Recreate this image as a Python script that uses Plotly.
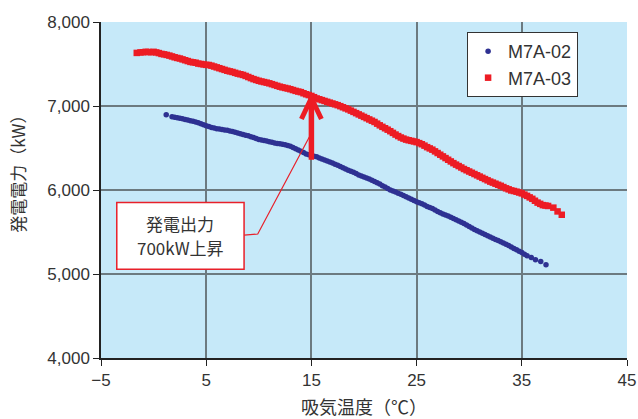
import plotly.graph_objects as go

# M7A-03 (red squares)
red_t = [-1.6, -1.25, -1.0, -0.75, -0.5, -0.25, 0.0, 0.25, 0.5, 0.75, 1.0, 1.25, 1.5, 1.75, 2.0, 2.25, 2.5, 2.75,
         3.0, 3.25, 3.5, 3.75, 4.0, 4.25, 4.5, 4.75, 5.0, 5.25, 5.5, 5.75, 6.0, 6.25, 6.5, 6.75, 7.0, 7.25, 7.5,
         7.75, 8.0, 8.25, 8.5, 8.75, 9.0, 9.25, 9.5, 9.75, 10.0, 10.25, 10.5, 10.75, 11.0, 11.25, 11.5, 11.75,
         12.0, 12.25, 12.5, 12.75, 13.0, 13.25, 13.5, 13.75, 14.0, 14.25, 14.5, 14.75, 15.0, 15.25, 15.5, 15.75,
         16.0, 16.25, 16.5, 16.75, 17.0, 17.25, 17.5, 17.75, 18.0, 18.25, 18.5, 18.75, 19.0, 19.25, 19.5, 19.75,
         20.0, 20.25, 20.5, 20.75, 21.0, 21.25, 21.5, 21.75, 22.0, 22.25, 22.5, 22.75, 23.0, 23.25, 23.5, 23.75,
         24.0, 24.25, 24.5, 24.75, 25.0, 25.25, 25.5, 25.75, 26.0, 26.25, 26.5, 26.75, 27.0, 27.25, 27.5, 27.75,
         28.0, 28.25, 28.5, 28.75, 29.0, 29.25, 29.5, 29.75, 30.0, 30.25, 30.5, 30.75, 31.0, 31.25, 31.5, 31.75,
         32.0, 32.25, 32.5, 32.75, 33.0, 33.25, 33.5, 33.75, 34.0, 34.25, 34.5, 34.75, 35.0, 35.25, 35.5, 35.75,
         36.0, 36.25, 36.5, 36.75, 37.0, 37.25, 37.5, 38.0, 38.4, 38.8]
red_kw = [7632, 7638, 7640, 7645, 7643, 7640, 7645, 7638, 7630, 7620, 7615, 7608, 7600, 7590, 7580, 7572, 7565,
          7555, 7545, 7535, 7525, 7520, 7515, 7505, 7500, 7495, 7490, 7488, 7480, 7470, 7460, 7450, 7440, 7430,
          7420, 7412, 7405, 7395, 7385, 7378, 7370, 7358, 7345, 7332, 7320, 7310, 7300, 7292, 7285, 7278, 7270,
          7260, 7250, 7240, 7230, 7222, 7215, 7208, 7200, 7190, 7180, 7172, 7165, 7152, 7140, 7130, 7120, 7105,
          7090, 7080, 7070, 7060, 7050, 7040, 7030, 7020, 7010, 6998, 6985, 6972, 6960, 6945, 6930, 6915, 6900,
          6885, 6870, 6855, 6840, 6825, 6810, 6790, 6770, 6752, 6735, 6718, 6700, 6680, 6660, 6642, 6625, 6612,
          6600, 6592, 6585, 6578, 6570, 6558, 6545, 6528, 6510, 6495, 6480, 6460, 6440, 6420, 6400, 6380, 6360,
          6340, 6320, 6302, 6285, 6268, 6250, 6235, 6220, 6205, 6190, 6175, 6160, 6145, 6130, 6115, 6100, 6088,
          6075, 6062, 6050, 6035, 6020, 6008, 5995, 5988, 5980, 5970, 5960, 5945, 5930, 5912, 5895, 5872, 5850,
          5835, 5820, 5815, 5810, 5790, 5745, 5705]

# M7A-02 (blue dots)
blue_t = [1.2, 1.75, 2.0, 2.25, 2.5, 2.75, 3.0, 3.25, 3.5, 3.75, 4.0, 4.25, 4.5, 4.75, 5.0, 5.25, 5.5, 5.75, 6.0,
          6.25, 6.5, 6.75, 7.0, 7.25, 7.5, 7.75, 8.0, 8.25, 8.5, 8.75, 9.0, 9.25, 9.5, 9.75, 10.0, 10.25, 10.5,
          10.75, 11.0, 11.25, 11.5, 11.75, 12.0, 12.25, 12.5, 12.75, 13.0, 13.25, 13.5, 13.75, 14.0, 14.25, 14.5,
          14.75, 15.0, 15.25, 15.5, 15.75, 16.0, 16.25, 16.5, 16.75, 17.0, 17.25, 17.5, 17.75, 18.0, 18.25, 18.5,
          18.75, 19.0, 19.25, 19.5, 19.75, 20.0, 20.25, 20.5, 20.75, 21.0, 21.25, 21.5, 21.75, 22.0, 22.25, 22.5,
          22.75, 23.0, 23.25, 23.5, 23.75, 24.0, 24.25, 24.5, 24.75, 25.0, 25.25, 25.5, 25.75, 26.0, 26.25, 26.5,
          26.75, 27.0, 27.25, 27.5, 27.75, 28.0, 28.25, 28.5, 28.75, 29.0, 29.25, 29.5, 29.75, 30.0, 30.25, 30.5,
          30.75, 31.0, 31.25, 31.5, 31.75, 32.0, 32.25, 32.5, 32.75, 33.0, 33.25, 33.5, 33.75, 34.0, 34.25, 34.5,
          34.75, 35.0, 35.25, 35.5, 35.9, 36.3, 36.8, 37.3]
blue_kw = [6895, 6872, 6866, 6860, 6855, 6848, 6840, 6832, 6825, 6818, 6810, 6800, 6790, 6778, 6765, 6755, 6745,
           6738, 6730, 6725, 6720, 6715, 6710, 6702, 6695, 6688, 6680, 6670, 6660, 6652, 6645, 6635, 6625, 6612,
           6600, 6595, 6590, 6582, 6575, 6568, 6560, 6555, 6550, 6545, 6540, 6530, 6520, 6505, 6490, 6475, 6460,
           6445, 6430, 6420, 6410, 6402, 6395, 6382, 6370, 6358, 6345, 6332, 6320, 6308, 6295, 6280, 6265, 6250,
           6235, 6222, 6210, 6195, 6180, 6168, 6155, 6142, 6130, 6115, 6100, 6085, 6070, 6052, 6035, 6018, 6000,
           5988, 5975, 5962, 5950, 5935, 5920, 5905, 5890, 5875, 5860, 5848, 5835, 5820, 5805, 5792, 5780, 5762,
           5745, 5730, 5715, 5702, 5690, 5675, 5660, 5645, 5630, 5615, 5600, 5582, 5565, 5548, 5530, 5515, 5500,
           5485, 5470, 5455, 5440, 5425, 5410, 5398, 5385, 5370, 5355, 5338, 5320, 5305, 5290, 5272, 5255, 5235,
           5218, 5195, 5170, 5150, 5110]

x_ticks = [-5, 5, 15, 25, 35, 45]
y_ticks = [4000, 5000, 6000, 7000, 8000]
x_title = "吸気温度（℃）"
y_title = "発電電力（kW）"

# annotation: arrow from/to and callout box
arrow_t = 15
arrow_from = 6360
arrow_to = 7095
box_x = [-3.5, 8.6]
box_y = [5056, 5850]
leader_x = [8.6, 9.9, 14.8]
leader_y = [5462, 5476, 6630]
label_lines = ["発電出力", "700kW上昇"]

FONT = "Noto Sans CJK JP"
NUMFONT = "Liberation Sans"
TXT = "#333333"
GRID = "#6c7a80"
RED = "#ed1c24"

fig = go.Figure()
fig.add_trace(go.Scatter(x=blue_t, y=blue_kw, mode="markers", name="M7A-02",
                         marker=dict(symbol="circle", size=5.5, color="#2e3192")))
fig.add_trace(go.Scatter(x=red_t, y=red_kw, mode="markers", name="M7A-03",
                         marker=dict(symbol="square", size=6.5, color=RED)))

fig.add_shape(type="rect", x0=box_x[0], x1=box_x[1], y0=box_y[0], y1=box_y[1],
              xref="x", yref="y", line=dict(color="#e8202a", width=1.5), fillcolor="white")
fig.add_trace(go.Scatter(x=leader_x, y=leader_y, mode="lines", showlegend=False,
                         line=dict(color="#e8202a", width=1.2), hoverinfo="skip"))
cx = (box_x[0] + box_x[1]) / 2
cy = (box_y[0] + box_y[1]) / 2
fig.add_annotation(x=cx, y=cy, xref="x", yref="y", yshift=12, text=label_lines[0], showarrow=False,
                   font=dict(family=FONT, size=17, color=TXT), borderpad=0)
fig.add_annotation(x=cx, y=cy, xref="x", yref="y", yshift=-12, text=label_lines[1], showarrow=False,
                   font=dict(family=FONT, size=17, color=TXT), borderpad=0)

# arrow shaft and open chevron head
fig.add_shape(type="line", x0=arrow_t, x1=arrow_t, y0=arrow_from, y1=arrow_to - 20,
              xref="x", yref="y", line=dict(color=RED, width=5.5))
hw = 0.95   # half-width of head (deg C)
hh = 250    # head height (kW)
fig.add_shape(type="path", xref="x", yref="y",
              path=f"M {arrow_t - hw},{arrow_to - hh} L {arrow_t},{arrow_to} L {arrow_t + hw},{arrow_to - hh}",
              line=dict(color=RED, width=5))

# y-axis title sits a little above the middle of the axis in the original
fig.add_annotation(x=0, y=0.56, xref="paper", yref="paper", xshift=-83, textangle=-90,
                   xanchor="center", yanchor="middle", text=y_title, showarrow=False,
                   font=dict(family=FONT, size=17, color=TXT))

fig.update_layout(
    width=638, height=419,
    margin=dict(l=101, r=11, t=22, b=61),
    paper_bgcolor="white", plot_bgcolor="#c6e9f9",
    font=dict(family=FONT, size=15, color=TXT),
    showlegend=True,
    legend=dict(x=0.696, y=0.97, xanchor="left", yanchor="top", bgcolor="white",
                bordercolor="#333333", borderwidth=1, font=dict(family=NUMFONT, size=18, color=TXT),
                tracegroupgap=0),
)
fig.update_xaxes(range=[-5, 45], tickvals=x_ticks, ticks="outside", ticklen=6, tickcolor="#222",
                 showline=True, linecolor="#222", linewidth=1.5, showgrid=True, gridcolor=GRID, gridwidth=1.5,
                 zeroline=False, automargin=False, tickfont=dict(family=NUMFONT, size=17, color=TXT),
                 title=dict(text=x_title, font=dict(family=FONT, size=18, color=TXT), standoff=18))
fig.update_yaxes(range=[4000, 8000], tickvals=y_ticks, tickformat=",d", ticks="outside", ticklen=6,
                 tickcolor="#222", showline=True, linecolor="#222", linewidth=1.5, showgrid=True,
                 gridcolor=GRID, gridwidth=1.5, zeroline=False, automargin=False,
                 tickfont=dict(family=NUMFONT, size=17, color=TXT))

# remove the browser's default 8px page margin so the 638x419 figure fills the window exactly
fig.write_html("out.html", config={"displayModeBar": False},
               post_script="document.body.style.margin='0';document.documentElement.style.overflow='hidden';")
